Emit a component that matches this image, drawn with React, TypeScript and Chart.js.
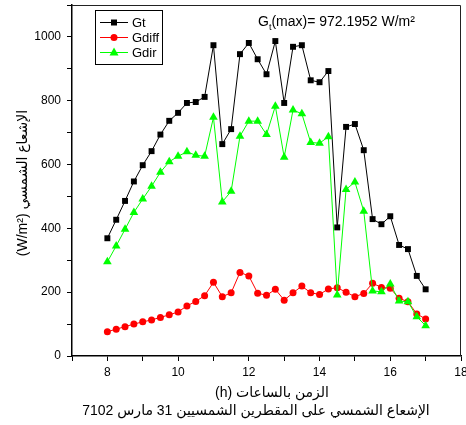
import React, { useEffect, useRef } from 'react';
import { Chart, registerables } from 'chart.js';

Chart.register(...registerables);

const hours = [8, 8.25, 8.5, 8.75, 9, 9.25, 9.5, 9.75, 10, 10.25, 10.5, 10.75, 11, 11.25, 11.5, 11.75, 12, 12.25, 12.5, 12.75, 13, 13.25, 13.5, 13.75, 14, 14.25, 14.5, 14.75, 15, 15.25, 15.5, 15.75, 16, 16.25, 16.5, 16.75, 17];
const gt = [369, 427, 486, 547, 598, 642, 694, 737, 762, 793, 796, 812, 974, 664, 711, 946, 981, 930, 883, 987, 793, 969, 974, 864, 858, 893, 403, 718, 727, 645, 429, 413, 438, 348, 335, 251, 209];
const gdiff = [76, 84, 92, 100, 107, 113, 121, 129, 138, 157, 171, 189, 231, 186, 198, 262, 251, 197, 190, 209, 175, 198, 219, 198, 193, 210, 214, 200, 186, 196, 228, 215, 212, 181, 170, 132, 116];
const gdir = [295, 345, 397, 450, 492, 532, 576, 609, 626, 640, 629, 626, 748, 483, 516, 689, 736, 736, 694, 783, 623, 771, 759, 669, 667, 687, 191, 522, 545, 454, 204, 201, 226, 172, 170, 123, 95];

const seriesNames = ['Gt', 'Gdiff', 'Gdir'];
const seriesColors = ['#000000', '#ff0000', '#00ff00'];
const xTitleUnit = '(h)';
const xTitleText = 'الزمن بالساعات';
const yTitleUnit = '(W/m²)';
const yTitleText = 'الإشعاع الشمسي';
const bottomTitle = 'الإشعاع الشمسي على المقطرين الشمسيين 31 مارس 7102';
const annoMain = 'G';
const annoSub = 't';
const annoRest = '(max)= 972.1952 W/m²';

const FONT = "'Liberation Sans', Arial, 'DejaVu Sans', sans-serif";

function drawMarker(ctx: CanvasRenderingContext2D, kind: string, x: number, y: number, color: string) {
  ctx.fillStyle = color;
  ctx.beginPath();
  if (kind === 'rect') {
    ctx.rect(x - 3, y - 3, 6, 6);
  } else if (kind === 'circle') {
    ctx.arc(x, y, 3.5, 0, Math.PI * 2);
  } else {
    ctx.moveTo(x, y - 5);
    ctx.lineTo(x + 4.5, y + 3);
    ctx.lineTo(x - 4.5, y + 3);
    ctx.closePath();
  }
  ctx.fill();
}

function drawPair(ctx: CanvasRenderingContext2D, left: string, right: string, cx: number, cy: number) {
  const gap = ctx.measureText(' ').width;
  const w1 = ctx.measureText(left).width;
  const w2 = ctx.measureText(right).width;
  const start = cx - (w1 + gap + w2) / 2;
  ctx.textAlign = 'left';
  ctx.fillText(left, start, cy);
  ctx.fillText(right, start + w1 + gap, cy);
}

const decor = {
  id: 'decor',
  beforeDatasetsDraw(chart: any) {
    const { ctx, chartArea: a } = chart;
    ctx.save();
    ctx.strokeStyle = '#222';
    ctx.lineWidth = 1;
    ctx.beginPath();
    ctx.moveTo(a.left, a.top + 0.5);
    ctx.lineTo(a.right - 0.5, a.top + 0.5);
    ctx.lineTo(a.right - 0.5, a.bottom);
    ctx.stroke();
    ctx.restore();
  },
  afterDraw(chart: any) {
    const { ctx } = chart;
    ctx.save();
    ctx.direction = 'ltr';
    // legend
    ctx.fillStyle = '#fff';
    ctx.fillRect(95, 10, 67, 54);
    ctx.strokeStyle = '#000';
    ctx.lineWidth = 1;
    ctx.strokeRect(95.5, 10.5, 67, 54);
    const kinds = ['rect', 'circle', 'triangle'];
    const rows = [22.5, 37.5, 52.5];
    for (let i = 0; i < 3; i++) {
      ctx.strokeStyle = seriesColors[i];
      ctx.beginPath();
      ctx.moveTo(100, rows[i]);
      ctx.lineTo(128, rows[i]);
      ctx.stroke();
      drawMarker(ctx, kinds[i], 114, rows[i], seriesColors[i]);
      ctx.fillStyle = '#000';
      ctx.font = `13px ${FONT}`;
      ctx.textAlign = 'left';
      ctx.textBaseline = 'middle';
      ctx.fillText(seriesNames[i], 132, rows[i] + 0.5);
    }
    // annotation
    ctx.fillStyle = '#000';
    ctx.textBaseline = 'alphabetic';
    ctx.textAlign = 'left';
    let x = 258;
    ctx.font = `14px ${FONT}`;
    ctx.fillText(annoMain, x, 26);
    x += ctx.measureText(annoMain).width;
    ctx.font = `9px ${FONT}`;
    ctx.fillText(annoSub, x, 30);
    x += ctx.measureText(annoSub).width;
    ctx.font = `14px ${FONT}`;
    ctx.fillText(annoRest, x, 26);
    // titles
    ctx.textBaseline = 'middle';
    ctx.font = `14px ${FONT}`;
    drawPair(ctx, xTitleUnit, xTitleText, 272, 393);
    ctx.textAlign = 'center';
    ctx.fillText(bottomTitle, 256, 411);
    ctx.translate(23, 183);
    ctx.rotate(-Math.PI / 2);
    drawPair(ctx, yTitleUnit, yTitleText, 0, 0);
    ctx.restore();
  },
};

export default function App() {
  const ref = useRef<HTMLCanvasElement | null>(null);
  useEffect(() => {
    if (!ref.current) return;
    const mk = (vals: number[]) => hours.map((h, i) => ({ x: h, y: vals[i] }));
    const chart = new Chart(ref.current, {
      type: 'line',
      data: {
        datasets: [
          { label: seriesNames[0], data: mk(gt), borderColor: seriesColors[0], backgroundColor: seriesColors[0], borderWidth: 1, pointStyle: 'rect', pointRadius: 4.2, pointBorderWidth: 0, order: 2 },
          { label: seriesNames[1], data: mk(gdiff), borderColor: seriesColors[1], backgroundColor: seriesColors[1], borderWidth: 1, pointStyle: 'circle', pointRadius: 3.5, pointBorderWidth: 0, order: 1 },
          { label: seriesNames[2], data: mk(gdir), borderColor: seriesColors[2], backgroundColor: seriesColors[2], borderWidth: 1, pointStyle: 'triangle', pointRadius: 5, pointBorderWidth: 0, order: 0 },
        ],
      },
      options: {
        animation: false,
        responsive: false,
        devicePixelRatio: 1,
        layout: { padding: { top: 4, right: 4, left: 0, bottom: 0 } },
        plugins: { legend: { display: false }, tooltip: { enabled: false }, title: { display: false } },
        scales: {
          x: {
            type: 'linear',
            min: 7,
            max: 18,
            ticks: {
              stepSize: 1,
              autoSkip: false,
              maxRotation: 0,
              color: '#000',
              padding: 4,
              font: { family: FONT, size: 12 },
              callback: (v: any) => (Number(v) % 2 === 0 ? String(v) : ''),
            },
            grid: { drawOnChartArea: false, drawTicks: true, tickLength: 5, tickColor: '#000', tickWidth: 1 },
            border: { display: true, color: '#000', width: 1.5 },
            afterFit: (s: any) => { s.height = 69; s.paddingLeft = 0; s.paddingRight = 0; },
          },
          y: {
            type: 'linear',
            min: 0,
            max: 1100,
            ticks: {
              stepSize: 100,
              autoSkip: false,
              color: '#000',
              padding: 6,
              font: { family: FONT, size: 12 },
              callback: (v: any) => (Number(v) % 200 === 0 && Number(v) <= 1000 ? String(v) : ''),
            },
            grid: { drawOnChartArea: false, drawTicks: true, tickLength: 5, tickColor: '#000', tickWidth: 1 },
            border: { display: true, color: '#000', width: 1.5 },
            afterFit: (s: any) => { s.width = 72; s.paddingTop = 0; s.paddingBottom = 0; },
          },
        },
      },
      plugins: [decor],
    });
    return () => chart.destroy();
  }, []);
  return (
    <div style={{ position: 'absolute', left: 0, top: 0, width: 466, height: 425, background: '#fff' }}>
      <canvas ref={ref} width={466} height={425} />
    </div>
  );
}
